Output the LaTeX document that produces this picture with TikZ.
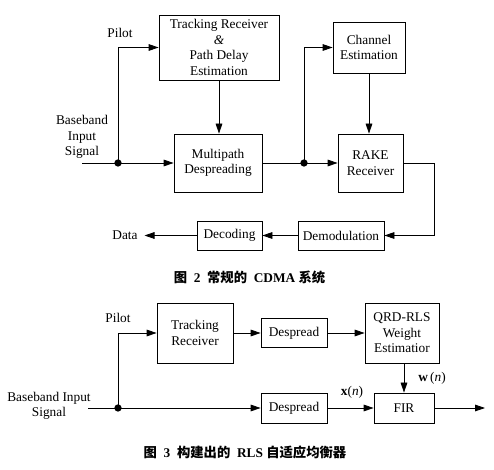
\documentclass[tikz,border=0pt]{standalone}
\usepackage{fontspec}
\setmainfont{Liberation Serif}
\newfontfamily\cjk{Noto Sans CJK SC}
\usetikzlibrary{arrows.meta}
\begin{document}
\begin{tikzpicture}[x=0.75pt,y=-0.75pt,
  every node/.style={font=\fontsize{10}{11.6}\selectfont},
  blk/.style={draw, line width=0.6pt, align=center, inner sep=0pt},
  lbl/.style={align=center, inner sep=1pt},
  arr/.style={line width=0.6pt, -{Triangle[length=7.5pt,width=5pt]}},
  ln/.style={line width=0.6pt},
  dot/.style={circle, fill, inner sep=0pt, minimum size=5.5pt}]
\useasboundingbox (0,0) rectangle (494,470);

% ---------- Figure 2 ----------
\node[blk, minimum width=90pt, minimum height=48.75pt] (trk) at (219,47.5) {Tracking Receiver\\\textit{\&}\\Path Delay\\Estimation};
\node[blk, minimum width=66pt, minimum height=43.5pt] (mpd) at (218,163) {Multipath\\Despreading};
\node[blk, minimum width=54pt, minimum height=38.25pt] (che) at (369,47.5) {Channel\\Estimation};
\node[blk, minimum width=48.75pt, minimum height=43.5pt] (rake) at (370.5,163) {RAKE\\Receiver};
\node[blk, minimum width=64.5pt, minimum height=21.75pt] (dem) at (341,235.5) {Demodulation};
\node[blk, minimum width=48.75pt, minimum height=21.75pt] (dec) at (229.5,235.5) {Decoding};
\node[lbl, inner xsep=5pt] (data) at (125,235.5) {Data};
\node[lbl] (pil1) at (120,33) {Pilot};
\node[lbl] (bis1) at (82,137) {Baseband\\Input\\Signal};
\coordinate (in1) at (82,163);
\node[dot] (d1) at (118,163) {};
\node[dot] (d2) at (304,163) {};
\coordinate (c1) at (434,163);

\draw[ln] (in1) -- (d1.center);
\draw[arr] (d1.center) -- (mpd.west);
\draw[arr] (d1.center) |- (trk.west);
\draw[arr] (trk.south) -- (trk.south |- mpd.north);
\draw[ln] (mpd.east) -- (d2.center);
\draw[arr] (d2.center) -- (rake.west);
\draw[arr] (d2.center) |- (che.west);
\draw[arr] (che.south) -- (che.south |- rake.north);
\draw[arr] (rake.east) -- (c1) |- (dem.east);
\draw[arr] (dem.west) -- (dec.east);
\draw[arr] (dec.west) -- (data.east);

\node (cap1) at (249.5,277) {\bfseries{\cjk 图}\enspace 2\enspace {\cjk 常规的}\enspace CDMA {\cjk 系统}};

% ---------- Figure 3 ----------
\node[blk, minimum width=57pt, minimum height=45pt] (trk2) at (195,333) {Tracking\\Receiver};
\node[blk, minimum width=49.5pt, minimum height=21.75pt] (ds1) at (294,333) {Despread};
\node[blk, minimum width=55.5pt, minimum height=45pt] (qrd) at (402,333) {QRD-RLS\\Weight\\Estimatior};
\node[blk, minimum width=45pt, minimum height=22.5pt] (fir) at (404,408) {FIR};
\node[blk, minimum width=49.5pt, minimum height=22.5pt] (ds2) at (294,408) {Despread};
\node[lbl] (pil2) at (118,318) {Pilot};
\node[lbl] (bis2) at (49,406) {Baseband Input\\Signal};
\node[lbl] (xn) at (352,392) {\textbf{x}(\textit{n})};
\node[lbl] (wn) at (432,378) {\textbf{w}\,(\textit{n})};
\coordinate (in2) at (88,408);
\coordinate (out2) at (485,408);
\node[dot] (d3) at (118,408) {};

\draw[ln] (in2) -- (d3.center);
\draw[arr] (d3.center) -- (ds2.west);
\draw[arr] (d3.center) |- (trk2.west);
\draw[arr] (trk2.east) -- (ds1.west);
\draw[arr] (ds1.east) -- (ds1.east -| qrd.west);
\draw[arr] (fir.north |- qrd.south) -- (fir.north);
\draw[arr] (ds2.east) -- (fir.west);
\draw[arr] (fir.east) -- (out2);

\node (cap2) at (245,452) {\bfseries{\cjk 图}\enspace 3\enspace {\cjk 构建出的}\enspace RLS {\cjk 自适应均衡器}};
\end{tikzpicture}
\end{document}
